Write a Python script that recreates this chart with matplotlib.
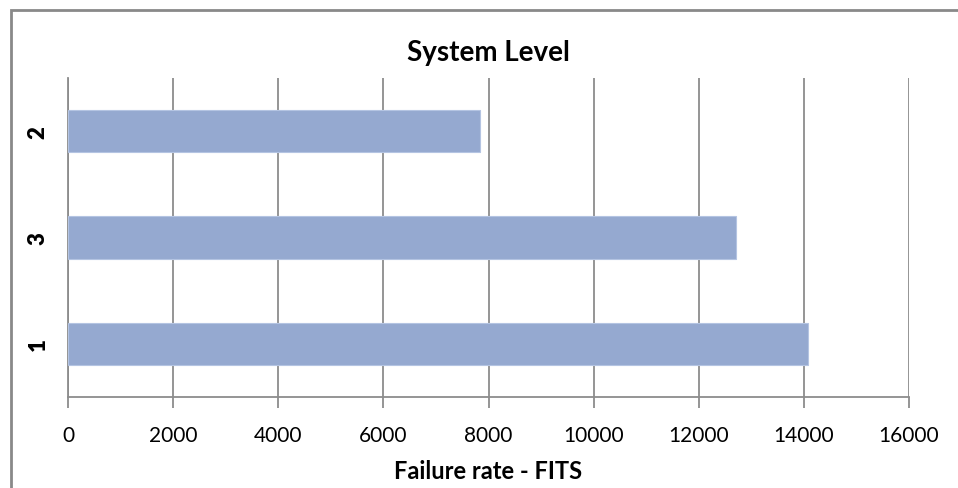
import matplotlib
matplotlib.use("Agg")
import matplotlib.pyplot as plt
from matplotlib.patches import Rectangle

# category order bottom -> top, failure rates in FITS
categories = ["1", "3", "2"]
fits = [14080, 12700, 7830]
xticks = list(range(0, 16001, 2000))

bar_color = "#95A9D0"
grid_color = "#8C8C8C"

plt.rcParams["font.family"] = ["Lato", "DejaVu Sans"]

fig = plt.figure(figsize=(9.58, 4.89), dpi=100)
ax = fig.add_axes([0.071, 0.1861, 0.8779, 0.6523])

ypos = range(len(categories))
ax.barh(ypos, fits, height=0.4, color=bar_color, edgecolor="#B4C4E2",
        linewidth=0.8, zorder=3)

ax.set_xlim(0, 16000)
ax.set_ylim(-0.5, len(categories) - 0.5)
ax.set_xticks(xticks)
ax.set_xticklabels([str(t) for t in xticks], fontsize=15)
ax.set_yticks(list(ypos))
ax.set_yticklabels(categories, rotation=90, fontsize=16, fontweight="heavy",
                   va="center")

ax.grid(axis="x", color=grid_color, linewidth=1.3, zorder=0)
for side in ("top", "right"):
    ax.spines[side].set_visible(False)
for side in ("left", "bottom"):
    ax.spines[side].set_color(grid_color)
    ax.spines[side].set_linewidth(1.3)
ax.tick_params(axis="x", direction="out", length=8, width=1.3,
               color=grid_color, pad=12)
ax.tick_params(axis="y", length=0, pad=14)

ax.set_title("System Level", fontsize=20, fontweight="bold", pad=13)
ax.set_xlabel("Failure rate - FITS", fontsize=17, fontweight="bold",
              labelpad=10)

# chart frame
fig.patches.append(Rectangle((0.0115, -0.1), 1.2, 1.0775,
                             transform=fig.transFigure, fill=False,
                             edgecolor="#898989", linewidth=2))

fig.savefig("out.png", dpi=100)
